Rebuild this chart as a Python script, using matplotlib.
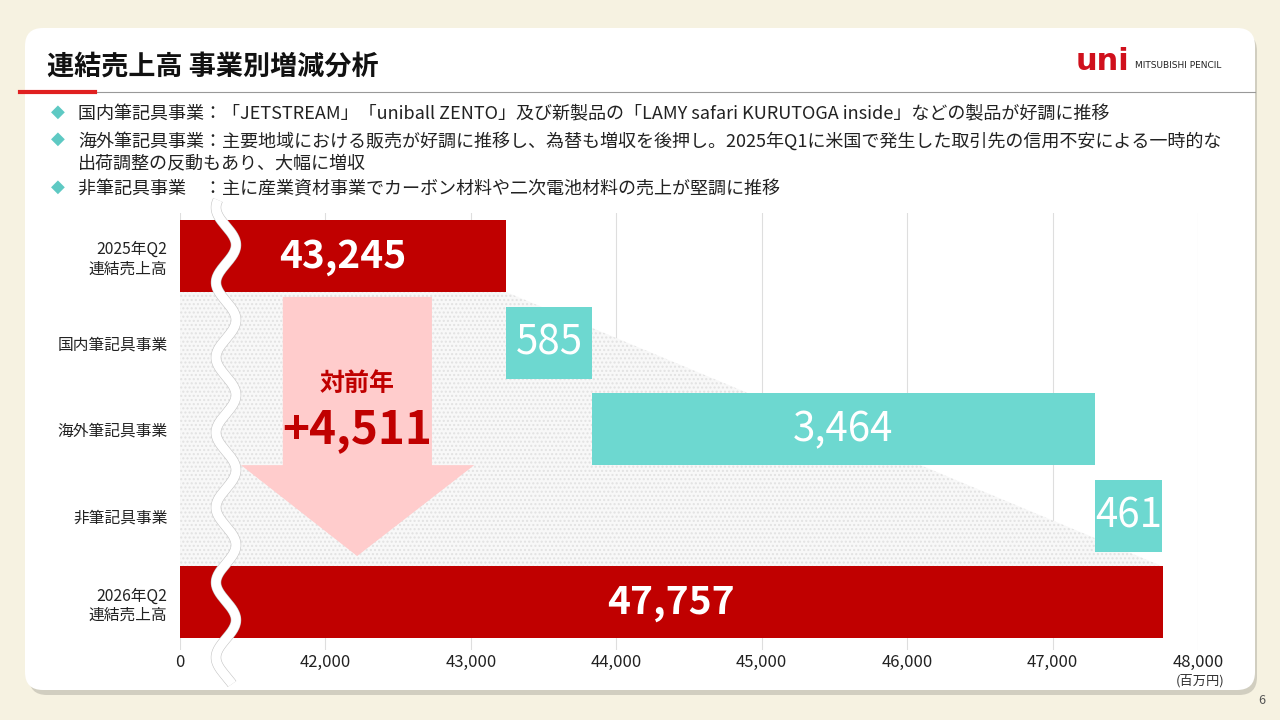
import numpy as np
import matplotlib.pyplot as plt
from matplotlib.patches import FancyBboxPatch, Polygon

plt.rcParams["font.family"] = ["Noto Sans CJK JP", "DejaVu Sans"]

# data
categories = ["2025年Q2\n連結売上高", "国内筆記具事業", "海外筆記具事業", "非筆記具事業", "2026年Q2\n連結売上高"]
start_total = 43245
segment_changes = [585, 3464, 461]
end_total = 47757
yoy_change = 4511
axis_floor = 41000  # shown as "0" (broken axis)
tick_values = [41000, 42000, 43000, 44000, 45000, 46000, 47000, 48000]
tick_labels = ["0", "42,000", "43,000", "44,000", "45,000", "46,000", "47,000", "48,000"]

bullets = [
    "国内筆記具事業：「JETSTREAM」「uniball ZENTO」及び新製品の「LAMY safari KURUTOGA inside」などの製品が好調に推移",
    "海外筆記具事業：主要地域における販売が好調に推移し、為替も増収を後押し。2025年Q1に米国で発生した取引先の信用不安による一時的な\n出荷調整の反動もあり、大幅に増収",
    "非筆記具事業　：主に産業資材事業でカーボン材料や二次電池材料の売上が堅調に推移",
]

RED = "#c00000"
TEAL = "#6dd8d0"
PINK = "#ffcccc"

fig = plt.figure(figsize=(12.8, 7.2), dpi=100)
fig.patch.set_facecolor("#f6f2e1")

# background layer in pixel coords
bg = fig.add_axes([0, 0, 1, 1], zorder=0)
bg.set_xlim(0, 1280)
bg.set_ylim(720, 0)
bg.axis("off")
bg.add_patch(FancyBboxPatch((29, 33), 1228, 662, boxstyle="round,pad=0,rounding_size=18",
                            fc="#b9b6aa", ec="none", alpha=0.6))
bg.add_patch(FancyBboxPatch((25, 28), 1230, 662, boxstyle="round,pad=0,rounding_size=18",
                            fc="white", ec="none"))
bg.text(47, 67, "連結売上高 事業別増減分析", fontsize=19.5, fontweight="bold",
        color="#111111", va="center", ha="left")
bg.plot([95, 1255], [92, 92], color="#999999", lw=0.8)
bg.plot([20, 95], [92, 92], color="#e02020", lw=3)
bg.text(1129, 62, "uni", fontsize=22, fontweight="heavy", color="#d0101c",
        ha="right", va="center", family=["DejaVu Sans"])
bg.text(1135, 66, "MITSUBISHI PENCIL", fontsize=6.5, color="#222222",
        ha="left", va="center", family=["DejaVu Sans"])

bullet_y = [112, 139, 187]
for by, txt in zip(bullet_y, bullets):
    bg.text(58, by, "◆", fontsize=13, color="#5ec9c3", ha="center", va="center",
            family=["DejaVu Sans"])
    bg.text(78, by - 7, txt, fontsize=13, color="#222222", ha="left", va="top",
            linespacing=1.22)

bg.text(1200, 681, "(百万円)", fontsize=9.5, color="#333333", ha="center", va="center")
bg.text(1262, 700, "6", fontsize=9, color="#555555", ha="center", va="center")

# chart
ax = fig.add_axes([180 / 1280, 1 - 650 / 720, 1018 / 1280, 437 / 720], zorder=2)
ax.patch.set_alpha(0)
ax.set_xlim(axis_floor, 48000)
ax.set_ylim(4.55, -0.5)
for s in ax.spines.values():
    s.set_visible(False)
ax.set_xticks(tick_values)
ax.set_xticklabels(tick_labels, fontsize=12, color="#222222")
ax.tick_params(axis="x", length=0, pad=3)
ax.set_yticks(range(len(categories)))
ax.set_yticklabels(categories, fontsize=11.3, color="#222222", linespacing=1.15)
ax.tick_params(axis="y", length=0, pad=9)
ax.grid(axis="x", color="#dedede", lw=0.8, zorder=0)
ax.set_axisbelow(True)

bar_h = 0.83
lefts = [axis_floor]
widths = [start_total - axis_floor]
run = start_total
for c in segment_changes:
    lefts.append(run)
    widths.append(c)
    run += c
lefts.append(axis_floor)
widths.append(end_total - axis_floor)
colors = [RED, TEAL, TEAL, TEAL, RED]

# shaded connector area
shade = Polygon([(axis_floor, bar_h / 2), (start_total, bar_h / 2),
                 (end_total, 4 - bar_h / 2), (axis_floor, 4 - bar_h / 2)],
                closed=True, fc="#f8f8f8", ec="#e2e2e2", lw=0, hatch="....", zorder=1)
ax.add_patch(shade)

ax.barh(range(len(categories)), widths, left=lefts, height=bar_h, color=colors, zorder=3)

labels = [f"{start_total:,}"] + [f"{c:,}" for c in segment_changes] + [f"{end_total:,}"]
for i, (l, w, lab) in enumerate(zip(lefts, widths, labels)):
    bold = i in (0, 4)
    ax.text(l + w / 2, i, lab, color="white", fontsize=28 if bold else 29,
            fontweight="bold" if bold else "normal", ha="center", va="center", zorder=4)

# year-on-year arrow (axes fraction)
arrow = Polygon([(0.101, 0.808), (0.2475, 0.808), (0.2475, 0.423), (0.289, 0.423),
                 (0.174, 0.215), (0.060, 0.423), (0.101, 0.423)],
                closed=True, transform=ax.transAxes, fc=PINK, ec="none", zorder=2)
ax.add_patch(arrow)
ax.text(0.174, 0.608, "対前年", transform=ax.transAxes, color=RED, fontsize=18,
        fontweight="bold", ha="center", va="center", zorder=4)
ax.text(0.174, 0.503, f"+{yoy_change:,}", transform=ax.transAxes, color=RED, fontsize=33,
        fontweight="bold", ha="center", va="center", zorder=4)

# axis break wave
ov = fig.add_axes([0, 0, 1, 1], zorder=5)
ov.set_xlim(0, 1280)
ov.set_ylim(720, 0)
ov.axis("off")
wy = np.linspace(200, 684, 600)
wx = 226 + 10 * np.cos(2 * np.pi * (wy - 320) / 75)
ov.plot(wx, wy, color="#c4c4c4", lw=7.5, solid_capstyle="butt")
ov.plot(wx, wy, color="white", lw=6.7, solid_capstyle="butt")

fig.savefig("out.png", dpi=100, facecolor=fig.get_facecolor())
